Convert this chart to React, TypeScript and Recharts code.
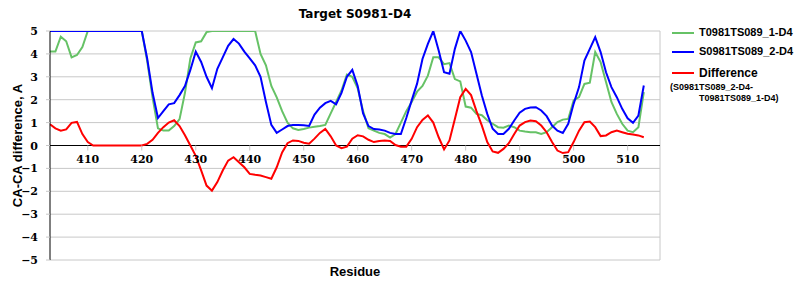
import { LineChart, Line, XAxis, YAxis, CartesianGrid, ReferenceLine, Label } from "recharts";

const firstResidue = 403;

const t0981 = [
  4.1, 4.1, 4.75, 4.55, 3.85, 3.95, 4.3, 5,
  5, 5, 5, 5, 5, 5, 5, 5, 5, 5,
  3.7, 2.1, 0.75, 0.65, 0.65, 0.85, 1.15, 2.3, 3.8, 4.5, 4.55, 4.95,
  5, 5, 5, 5, 5, 5, 5, 5, 5,
  4.0, 3.5, 2.6, 2.1, 1.5, 1.0, 0.75, 0.68, 0.72, 0.78, 0.82, 0.85, 0.9,
  1.4, 1.9, 2.4, 3.1, 3.0, 2.5, 1.5, 0.75, 0.65, 0.55, 0.5, 0.35, 0.5, 1.0, 1.5,
  1.9, 2.35, 2.6, 3.05, 3.85, 3.85, 3.55, 3.6, 2.9, 2.8,
  1.7, 1.65, 1.38, 1.32, 1.1, 0.95, 0.8, 0.78, 0.87, 0.8,
  0.65, 0.61, 0.58, 0.58, 0.5, 0.58, 0.8, 1.02, 1.13, 1.16,
  1.97, 2.11, 2.69, 2.74, 4.08, 3.64, 2.77, 1.9, 1.38, 0.95,
  0.65, 0.58, 0.8, 2.33,
];

const s0981 = [
  5, 5, 5, 5, 5, 5, 5, 5, 5, 5, 5, 5, 5, 5, 5, 5, 5, 5,
  3.8, 2.3, 1.2, 1.5, 1.8, 1.85, 2.2, 2.6, 3.3,
  4.1, 3.65, 3.0, 2.5, 3.35, 3.85, 4.35, 4.65, 4.45, 4.1,
  3.8, 3.5, 3.0, 1.9, 0.9, 0.55, 0.7, 0.85, 0.9, 0.9,
  0.88, 0.85, 1.35, 1.65, 1.85, 1.95, 1.8, 2.3, 3.0, 3.3,
  2.6, 1.4, 0.85, 0.72, 0.7, 0.65, 0.55, 0.5, 0.5, 1.2,
  1.97, 2.7, 3.78, 4.44, 5.0, 4.15, 3.2, 3.13, 4.22, 5.0,
  4.58, 4.08, 3.13, 2.18, 1.38, 0.73, 0.5, 0.5, 0.73, 1.09,
  1.43, 1.6, 1.66, 1.67, 1.53, 1.28, 0.87, 0.65, 0.55, 0.95,
  1.82, 2.55, 3.71, 4.22, 4.73, 4.08, 3.2, 2.55, 2.11, 1.6,
  1.19, 0.99, 1.31, 2.62,
];

const difference = [
  0.93, 0.75, 0.65, 0.7, 0.99, 1.03, 0.5, 0.15,
  0, 0, 0, 0, 0, 0, 0, 0, 0, 0,
  0.07, 0.25, 0.55, 0.8, 1.0, 1.1, 0.85, 0.45, 0.0,
  -0.45, -1.09, -1.75, -1.97, -1.6, -1.09, -0.66, -0.51, -0.73, -0.95,
  -1.24, -1.28, -1.31, -1.38, -1.45, -0.95, -0.3, 0.1, 0.22, 0.2,
  0.12, 0.08, 0.3, 0.55, 0.72, 0.4, 0.0, -0.12, -0.05, 0.3,
  0.45, 0.4, 0.25, 0.15, 0.2, 0.22, 0.2, 0.02, -0.05, -0.05,
  0.29, 0.8, 1.12, 1.31, 1.0, 0.36, -0.17, 0.22, 1.16, 2.11,
  2.47, 2.2, 1.5, 0.87, 0.15, -0.26, -0.32, -0.15, 0.1, 0.5,
  0.87, 1.02, 1.09, 1.06, 0.87, 0.58, 0.15, -0.22, -0.33, -0.29,
  0.15, 0.65, 1.02, 1.05, 0.8, 0.41, 0.44, 0.58, 0.65, 0.58,
  0.51, 0.48, 0.44, 0.36,
];

const xTicks = [410, 420, 430, 440, 450, 460, 470, 480, 490, 500, 510];
const yTicks = [-5, -4, -3, -2, -1, 0, 1, 2, 3, 4, 5];

const data = t0981.map((v, i) => ({
  residue: firstResidue + i,
  t0981: v,
  s0981: s0981[i],
  diff: difference[i],
}));

const GREEN = "#66c266";
const BLUE = "#0000ff";
const RED = "#ff0000";
const GRID = "#c8c8c8";
const serif = "DejaVu Serif";
const sans = "Liberation Sans";

const PLOT_TOP = 31;
const PLOT_H = 229;
const ZERO_Y = PLOT_TOP + PLOT_H / 2;

// x tick labels sit under the zero line, not under the plot
function XTick(props: any) {
  const { x, payload } = props;
  return (
    <g>
      <line x1={x} x2={x} y1={ZERO_Y} y2={ZERO_Y + 5} stroke={GRID} />
      <text x={x} y={ZERO_Y + 17} textAnchor="middle" style={{ fontFamily: serif, fontWeight: "bold", fontSize: 11 }} fill="#000">
        {payload.value}
      </text>
    </g>
  );
}

function YTick(props: any) {
  const { x, y, payload } = props;
  const v = payload.value;
  const s = v < 0 ? "\u2212" + Math.abs(v) : String(v);
  return (
    <text x={x} y={y + 4} textAnchor="end" style={{ fontFamily: serif, fontWeight: "bold", fontSize: 11 }} fill="#000">
      {s}
    </text>
  );
}

function LegendBox() {
  const row = (color: string, y: number) => (
    <line x1={2} x2={24} y1={y} y2={y} stroke={color} strokeWidth={2} />
  );
  return (
    <div style={{ position: "absolute", left: 670, top: 25, width: 130, height: 90, fontFamily: sans, fontWeight: "bold" }}>
      <svg width={30} height={60} style={{ position: "absolute", left: 0, top: 0 }}>
        {row(GREEN, 8)}
        {row(BLUE, 27)}
        {row(RED, 48)}
      </svg>
      <div style={{ position: "absolute", left: 29, top: 1, fontSize: 11 }}>T0981TS089_1-D4</div>
      <div style={{ position: "absolute", left: 29, top: 20, fontSize: 11 }}>S0981TS089_2-D4</div>
      <div style={{ position: "absolute", left: 29, top: 41, fontSize: 12 }}>Difference</div>
      <div style={{ position: "absolute", left: 0, top: 57, fontSize: 9 }}>(S0981TS089_2-D4-</div>
      <div style={{ position: "absolute", left: 29, top: 68, fontSize: 9 }}>T0981TS089_1-D4)</div>
    </div>
  );
}

export default function App() {
  return (
    <div style={{ position: "absolute", left: 0, top: 0, width: 800, height: 300, background: "#fff" }}>
      <div style={{ position: "absolute", left: 50, width: 610, top: 7, textAlign: "center", fontFamily: "DejaVu Sans", fontWeight: "bold", fontSize: 12 }}>
        Target S0981-D4
      </div>
      <LineChart width={800} height={300} data={data} margin={{ top: PLOT_TOP, right: 140, bottom: 0, left: 0 }}>
        <CartesianGrid vertical={false} stroke={GRID} />
        <XAxis
          dataKey="residue"
          type="number"
          domain={[403, 516]}
          ticks={xTicks}
          allowDataOverflow
          height={40}
          axisLine={false}
          tickLine={false}
          tick={<XTick />}
        >
          <Label value="Residue" position="insideBottom" offset={24} style={{ fontFamily: sans, fontWeight: "bold", fontSize: 13, fill: "#000" }} />
        </XAxis>
        <YAxis
          type="number"
          domain={[-5, 5]}
          ticks={yTicks}
          interval={0}
          allowDataOverflow
          width={50}
          axisLine={{ stroke: "#000" }}
          tickLine={{ stroke: GRID }}
          tickSize={4}
          tickMargin={8}
          tick={<YTick />}
        >
          <Label value="CA-CA difference, A" angle={-90} position="insideLeft" offset={17} style={{ textAnchor: "middle", fontFamily: sans, fontWeight: "bold", fontSize: 13, fill: "#000" }} />
        </YAxis>
        <ReferenceLine x={516} stroke={GRID} />
        <ReferenceLine y={0} stroke="#000" />
        <Line dataKey="t0981" stroke={GREEN} strokeWidth={2} dot={false} isAnimationActive={false} />
        <Line dataKey="s0981" stroke={BLUE} strokeWidth={2} dot={false} isAnimationActive={false} />
        <Line dataKey="diff" stroke={RED} strokeWidth={2} dot={false} isAnimationActive={false} />
      </LineChart>
      <LegendBox />
    </div>
  );
}
